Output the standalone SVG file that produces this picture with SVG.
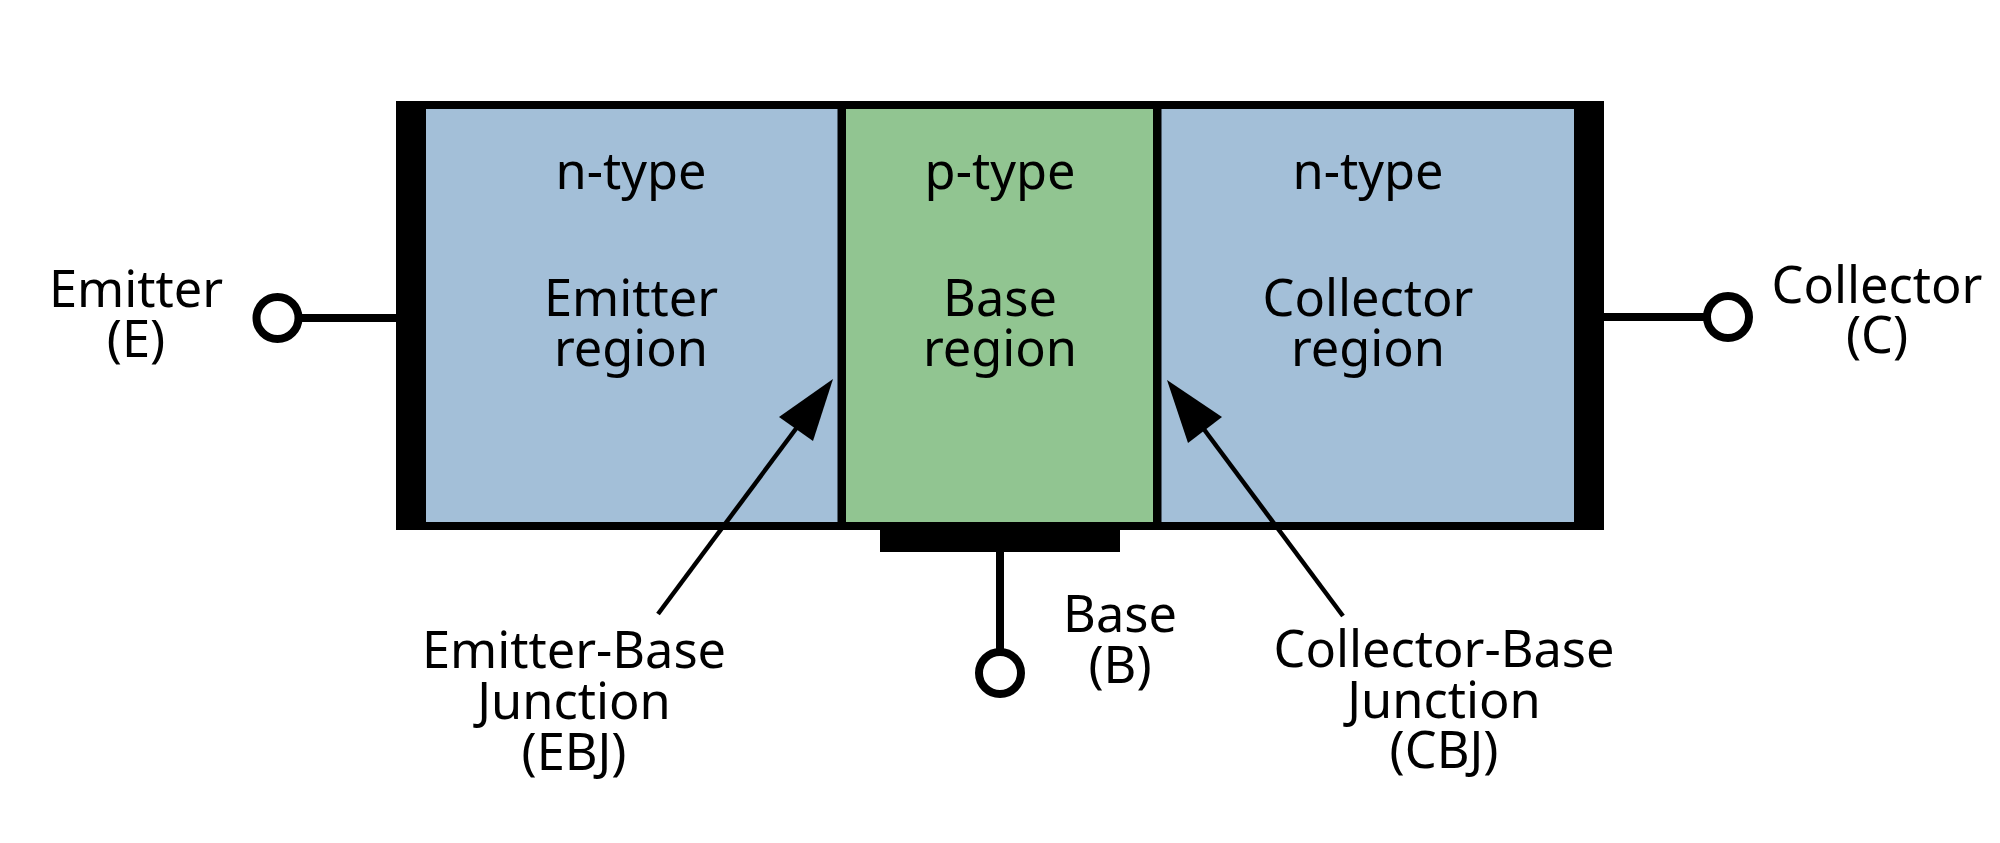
<svg xmlns="http://www.w3.org/2000/svg" width="2000" height="843" viewBox="0 0 2000 843">
<style>
text{font-family:"Noto Sans","Open Sans","DejaVu Sans",sans-serif;font-size:50.5px;fill:#000;text-anchor:middle}
.blk{fill:#000}
.lead{stroke:#000;stroke-width:8;fill:none}
.term{stroke:#000;stroke-width:8;fill:#fff}
.arr{stroke:#000;stroke-width:4.5;fill:none}
</style>
<rect width="2000" height="843" fill="#fff"/>
<g id="emitter-region">
<rect x="396" y="101" width="446" height="429" fill="#a3bfd8"/>
<text x="631" y="189">n-type</text>
<text x="631" y="316">Emitter</text>
<text x="631" y="366">region</text>
</g>
<g id="base-region">
<rect x="841" y="101" width="317" height="429" fill="#91c591"/>
<text x="1000" y="189">p-type</text>
<text x="1000" y="316">Base</text>
<text x="1000" y="366">region</text>
</g>
<g id="collector-region">
<rect x="1157" y="101" width="447" height="429" fill="#a3bfd8"/>
<text x="1368" y="189">n-type</text>
<text x="1368" y="316">Collector</text>
<text x="1368" y="366">region</text>
</g>
<g id="borders">
<rect class="blk" x="396" y="101" width="1208" height="8"/>
<rect class="blk" x="396" y="522" width="1208" height="8"/>
<rect class="blk" x="396" y="101" width="30" height="429"/>
<rect class="blk" x="1574" y="101" width="30" height="429"/>
<rect class="blk" x="837.5" y="101" width="8.5" height="429"/>
<rect class="blk" x="1153" y="101" width="8.5" height="429"/>
<rect class="blk" x="880" y="529" width="240" height="23"/>
</g>
<g id="connectors">
<line class="lead" x1="298" y1="318" x2="397" y2="318"/>
<line class="lead" x1="1603" y1="317" x2="1707" y2="317"/>
<line class="lead" x1="1000" y1="551" x2="1000" y2="652"/>
<line class="arr" x1="658" y1="614" x2="798" y2="426"/>
<polygon class="blk" points="833,379 779,417 813,441"/>
<line class="arr" x1="1343" y1="616" x2="1203" y2="428"/>
<polygon class="blk" points="1167,380 1222,417 1188,443"/>
</g>
<g id="emitter-terminal">
<circle class="term" cx="277.5" cy="318" r="21"/>
<text x="136" y="307">Emitter</text>
<text x="136" y="357">(E)</text>
</g>
<g id="collector-terminal">
<circle class="term" cx="1728" cy="317" r="21"/>
<text x="1877" y="303">Collector</text>
<text x="1877" y="353">(C)</text>
</g>
<g id="base-terminal">
<circle class="term" cx="1000" cy="673" r="21"/>
<text x="1120" y="632">Base</text>
<text x="1120" y="683">(B)</text>
</g>
<g id="ebj-label">
<text x="574" y="668">Emitter-Base</text>
<text x="574" y="719">Junction</text>
<text x="574" y="770">(EBJ)</text>
</g>
<g id="cbj-label">
<text x="1444" y="667">Collector-Base</text>
<text x="1444" y="718">Junction</text>
<text x="1444" y="768">(CBJ)</text>
</g>
</svg>
